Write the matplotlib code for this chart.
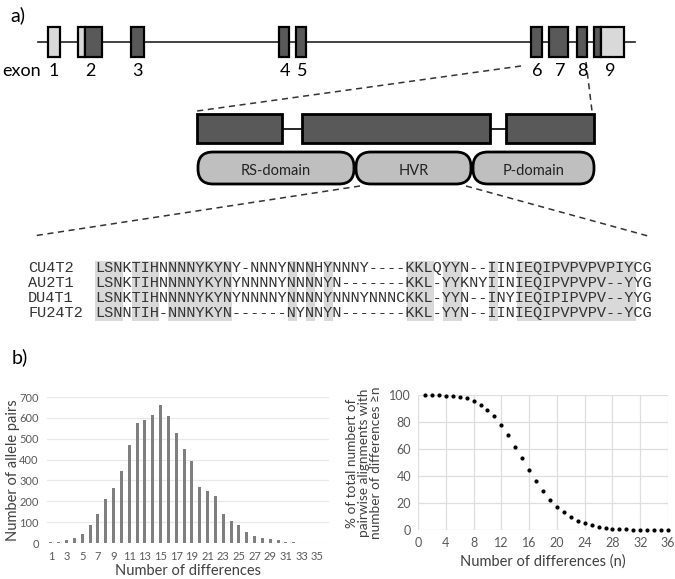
import matplotlib.pyplot as plt
from matplotlib.patches import Rectangle, FancyBboxPatch

plt.rcParams['font.family'] = ['Lato', 'DejaVu Sans']

# ---- data ----
exon_labels = ['1', '2', '3', '4', '5', '6', '7', '8', '9']
domain_labels = ['RS-domain', 'HVR', 'P-domain']

seq_names = ['CU4T2', 'AU2T1', 'DU4T1', 'FU24T2']
seqs = [
    'LSNKTIHNNNNYKYNY-NNNYNNNHYNNNY----KKLQYYN--IINIEQIPVPVPVPIYCG',
    'LSNKTIHNNNNYKYNYNNNNYNNNNYN-------KKL-YYKNYIINIEQIPVPVPV--YYG',
    'LSNKTIHNNNNYKYNYNNNNYNNNNYNNNYNNNCKKL-YYN--INYIEQIPIPVPV--YYG',
    'LSNNTIH-NNNYKYN------NYNNYN-------KKL-YYN--IINIEQIPVPVPV--YCG',
]
# shaded alignment columns (1-based runs)
shaded_runs = [(1, 3), (5, 7), (9, 15), (22, 22), (24, 24), (26, 26),
               (35, 37), (39, 40), (44, 44), (47, 52), (53, 58), (59, 59)]

n_diff = list(range(1, 37))
allele_pairs = [3, 7, 15, 25, 45, 87, 140, 213, 262, 343, 468, 577, 591, 616,
                664, 607, 528, 450, 393, 269, 247, 223, 140, 105, 86, 51, 33,
                25, 20, 13, 4, 3, 2, 2, 1, 1]
pct_ge_n = [100, 100, 99.8, 99.5, 99.3, 98.8, 97.5, 95.5, 92.8, 89.1, 84.2,
            78.0, 70.1, 61.7, 53.3, 44.4, 36.0, 28.6, 22.2, 17.0, 13.1, 9.9,
            6.7, 4.9, 3.5, 2.0, 1.2, 1.0, 0.7, 0.5, 0.3, 0.2, 0.1, 0.1, 0.05,
            0.02]

W, H = 675, 579
fig = plt.figure(figsize=(W / 100, H / 100), dpi=100)
ax = fig.add_axes([0, 0, 1, 1])
ax.set_xlim(0, W)
ax.set_ylim(H, 0)
ax.axis('off')

dark = '#595959'
light = '#d9d9d9'
dash = (0, (4, 3))

# ---- panel a: gene structure ----
ax.text(10, 15, 'a)', fontsize=14, va='center', ha='left')
ax.plot([38, 635], [42, 42], color='#222222', lw=1.2, zorder=1)
exon_parts = [(48, 60, light), (78, 85, light), (85, 102, dark), (131, 144, dark),
              (279, 289, dark), (296, 306, dark), (531, 542, dark), (549, 568, dark),
              (577, 587, dark), (594, 601, dark), (601, 624, light)]
for x0, x1, c in exon_parts:
    ax.add_patch(Rectangle((x0, 27), x1 - x0, 30, facecolor=c,
                           edgecolor='black', lw=1.6, zorder=2))
exon_x = [54, 90, 137, 285, 302, 537, 560, 582, 610]
ax.text(2, 71, 'exon', fontsize=13, va='center', ha='left')
for lab, x in zip(exon_labels, exon_x):
    ax.text(x, 71, lab, fontsize=13, va='center', ha='center')

# zoom lines to protein
ax.plot([521, 197], [66, 111], color='#333333', lw=1.1, ls=dash)
ax.plot([586, 592], [62, 111], color='#333333', lw=1.1, ls=dash)

# protein exon boxes
ax.plot([282, 302], [129, 129], color='black', lw=1.2)
ax.plot([490, 506], [129, 129], color='black', lw=1.2)
for x0, x1 in [(197, 282), (302, 490), (506, 594)]:
    ax.add_patch(Rectangle((x0, 114), x1 - x0, 29, facecolor=dark,
                           edgecolor='black', lw=2, zorder=2))

# domains
dom_x = [(197, 355), (355, 472), (472, 595)]
for (x0, x1), lab in zip(dom_x, domain_labels):
    ax.add_patch(FancyBboxPatch((x0 + 1, 152), x1 - x0 - 2, 32,
                                boxstyle='round,pad=0,rounding_size=15',
                                facecolor='#bfbfbf', edgecolor='black', lw=2,
                                zorder=2))
    ax.text((x0 + x1) / 2, 171, lab, fontsize=10.5, ha='center', va='center',
            color='#222222', zorder=3)

ax.plot([360, 33], [186, 236], color='#333333', lw=1.1, ls=dash)
ax.plot([466, 648], [186, 236], color='#333333', lw=1.1, ls=dash)

# alignment
fs_mono = 11
cw = 0.6 * fs_mono * 100 / 72
seq_x = 95
row_y = [268, 283, 298, 313]
for a, b in shaded_runs:
    ax.add_patch(Rectangle((seq_x + (a - 1) * cw, 261), (b - a + 1) * cw, 60,
                           facecolor='#d9d9d9', edgecolor='none', zorder=1))
for name, s, y in zip(seq_names, seqs, row_y):
    ax.text(28, y, name, fontsize=fs_mono, family='Liberation Mono',
            va='center', ha='left', color='#333333', zorder=3)
    ax.text(seq_x, y, s, fontsize=fs_mono, family='Liberation Mono',
            va='center', ha='left', color='#333333', zorder=3)

# ---- panel b ----
ax.text(12, 357, 'b)', fontsize=14, va='center', ha='left')

tick_col = '#595959'
axh = fig.add_axes([47 / W, 1 - 543 / H, (329 - 47) / W, (543 - 397) / H])
axh.set_facecolor('none')
axh.bar(n_diff, allele_pairs, width=0.4, color='#7f7f7f', zorder=3)
axh.set_xlim(0.5, 36.5)
axh.set_ylim(0, 700)
axh.set_yticks(range(0, 701, 100))
axh.set_xticks(range(1, 36, 2))
axh.grid(axis='y', color='#e8e8e8', lw=0.9, zorder=0)
for sp in axh.spines.values():
    sp.set_visible(False)
axh.tick_params(length=0, labelsize=8, colors=tick_col, pad=6)
ax.text(13, 470, 'Number of allele pairs', rotation=90, fontsize=10.5,
        ha='center', va='center', color='#404040')
ax.text(188, 571, 'Number of differences', fontsize=10.5, ha='center',
        va='center', color='#404040')

axc = fig.add_axes([418 / W, 1 - 530 / H, (668 - 418) / W, (530 - 395) / H])
axc.set_facecolor('none')
axc.scatter(n_diff, pct_ge_n, s=4, color='black', zorder=3, clip_on=False)
axc.set_xlim(0, 36)
axc.set_ylim(0, 100)
axc.set_xticks(range(0, 37, 4))
axc.set_yticks(range(0, 101, 20))
axc.grid(color='#dedede', lw=0.9, zorder=0)
for sp in axc.spines.values():
    sp.set_visible(False)
axc.tick_params(length=0, labelsize=9, colors=tick_col, pad=5)
ax.text(364, 463, '% of total numbert of\npairwise alignments with\nnumber of differences \u2265n',
        rotation=90, fontsize=9.8, ha='center', va='center', color='#404040',
        linespacing=0.95)
ax.text(543, 562, 'Number of differences (n)', fontsize=10.5, ha='center',
        va='center', color='#404040')

fig.savefig('out.png', dpi=100)
